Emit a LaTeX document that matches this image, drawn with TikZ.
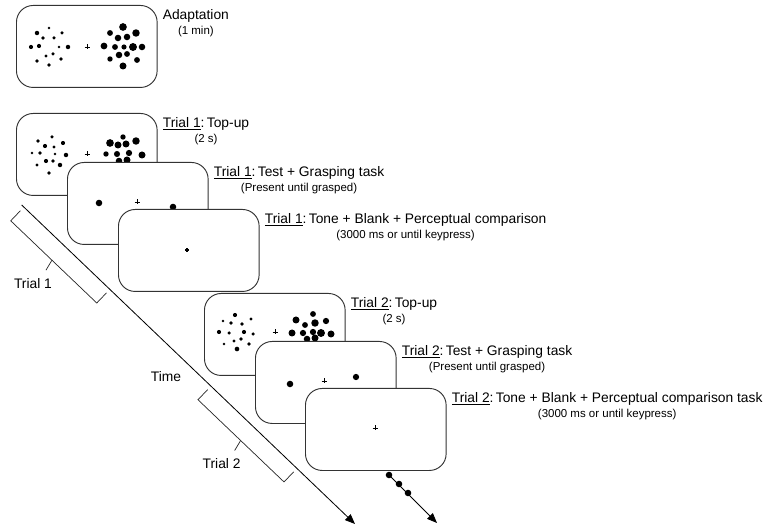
\documentclass[tikz,border=0pt]{standalone}
\usepackage{fontspec}
\setmainfont{Liberation Sans}
\usetikzlibrary{positioning,arrows.meta}
\newcommand{\subline}{\fontsize{9.8}{11.4}\selectfont}

\begin{document}
\begin{tikzpicture}[%
	x=0.3mm,
	y=-0.3mm,
	>={Triangle[length=3mm,width=2.4mm]},
	screen/.style={%
		rectangle,
		rounded corners=5mm,
		draw=black!80,
		line width=0.8pt,
		fill=white,
		minimum width=42.2mm,
		minimum height=24.6mm,
		anchor=north west
	},
	lbl/.style={%
		font=\fontsize{11.8}{11.4}\selectfont,
		align=center,
		inner sep=0pt,
		anchor=north west
	},
	txt/.style={%
		font=\fontsize{11.8}{13}\selectfont,
		inner sep=0pt
	},
	fix/.style={line width=0.5pt},
	brk/.style={line width=0.6pt, black!85}
	]

	\useasboundingbox (0,0) rectangle (770,527);

	% adaptation
	\node[screen] (adapt) at (16,5) {};
	\begin{scope}[shift={(adapt.north west)}]
		\foreach \x/\y/\r in {33/23/1.2, 21/28/1.9, 46/28/1.5, 27/33/1.7, 38/33/1.5, 15/42/1.8, 23/41/1.8, 43/42/1.2, 52/42/1.9, 37/49/1.5, 30/51/1.4, 21/56/1.6, 45/54/1.7, 33/60/1.6,
			107/22/3.3, 94/28/2.5, 120/28/3.2, 102/33/2.8, 111/32/2.8, 88/41/2.9, 99/42/2.5, 108/42/2.2, 117/42/3.4, 126/42/2.8, 103/50/2.8, 111/49/2.5, 94/54/2.3, 121/55/2.5, 107/61/3.0}
			\fill (\x,\y) circle[radius=\r*0.35mm];
		\draw[fix] (68.5,42) -- (73.5,42) (71,39.5) -- (71,44.5);
	\end{scope}
	\node[lbl] (adaptlbl) at ([shift={(5,4)}]adapt.north east) {Adaptation\\[2pt]\subline(1 min)};

	% trial 1
	\node[screen] (topupA) at (16,113) {};
	\begin{scope}[shift={(topupA.north west)}]
		\foreach \x/\y/\r in {36/24/1.5, 22/28/1.7, 47/30/1.8, 29/33/1.8, 38/34/1.3, 16/40/1.2, 24/40/1.7, 39/41/1.2, 50/42/1.9, 30/48/1.8, 37/48/1.7, 21/52/1.3, 44/52/1.9, 33/60/1.6,
			107/24/2.3, 94/30/3.3, 102/32/3.0, 110/31/3.0, 120/28/3.2, 90/41/2.3, 101/41/2.6, 113/40/2.7, 126/42/3.0, 103/48/2.8, 111/47/3.0, 95/54/2.5, 120/53/2.7, 107/60/3.0}
			\fill (\x,\y) circle[radius=\r*0.35mm];
		\draw[fix] (68.5,41) -- (73.5,41) (71,38.5) -- (71,43.5);
	\end{scope}
	\node[lbl] (topupAlbl) at ([shift={(5,4)}]topupA.north east) {\underline{Trial 1}:\,Top-up\\[2pt]\subline(2 s)};

	\node[screen] (testA) at (67,162) {};
	\begin{scope}[shift={(testA.north west)}]
		\fill (32,41) circle[radius=2.8*0.35mm] (106,45) circle[radius=2.8*0.35mm];
		\draw[fix] (67.5,40) -- (72.5,40) (70,37.5) -- (70,42.5);
	\end{scope}
	\node[lbl] (testAlbl) at ([shift={(5,4)}]testA.north east) {\underline{Trial 1}:\,Test + Grasping task\\[2pt]\subline(Present until grasped)};

	\node[screen] (toneA) at (118,209) {};
	\begin{scope}[shift={(toneA.north west)}]
		\draw[line width=1.1pt] (67.2,41) -- (70.8,41) (69,39.2) -- (69,42.8);
	\end{scope}
	\node[lbl] (toneAlbl) at ([shift={(5,4)}]toneA.north east) {\underline{Trial 1}:\,Tone + Blank + Perceptual comparison\\[2pt]\subline(3000 ms or until keypress)};

	% trial 2
	\node[screen] (topupB) at (204,293) {};
	\begin{scope}[shift={(topupB.north west)}]
		\foreach \x/\y/\r in {31/22/1.8, 19/28/1.2, 47/26/1.4, 27/30/1.7, 38/31/1.6, 15/39/1.8, 25/40/1.5, 40/39/1.8, 49/41/1.5, 30/48/1.3, 37/46/1.6, 20/51/1.2, 45/51/1.7, 33/56/2.0,
			109/21/2.5, 92/27/3.0, 101/32/2.5, 111/30/3.2, 122/28/2.7, 88/40/3.0, 99/40/2.7, 109/39/2.7, 117/40/3.4, 127/41/3.0, 103/46/2.8, 111/45/3.0, 95/53/2.5, 120/52/2.7}
			\fill (\x,\y) circle[radius=\r*0.35mm];
		\draw[fix] (68.5,39) -- (73.5,39) (71,36.5) -- (71,41.5);
	\end{scope}
	\node[lbl] (topupBlbl) at ([shift={(5,4)}]topupB.north east) {\underline{Trial 2}:\,Top-up\\[2pt]\subline(2 s)};

	\node[screen] (testB) at (255,341) {};
	\begin{scope}[shift={(testB.north west)}]
		\fill (35,43) circle[radius=2.8*0.35mm] (101,36) circle[radius=2.7*0.35mm];
		\draw[fix] (66.5,40) -- (71.5,40) (69,37.5) -- (69,42.5);
	\end{scope}
	\node[lbl] (testBlbl) at ([shift={(5,4)}]testB.north east) {\underline{Trial 2}:\,Test + Grasping task\\[2pt]\subline(Present until grasped)};

	\node[screen] (toneB) at (305,388) {};
	\begin{scope}[shift={(toneB.north west)}]
		\draw[fix] (67.5,40) -- (72.5,40) (70,37.5) -- (70,42.5);
	\end{scope}
	\node[lbl] (toneBlbl) at ([shift={(5,4)}]toneB.north east) {\underline{Trial 2}:\,Tone + Blank + Perceptual comparison task\\[2pt]\subline(3000 ms or until keypress)};

	% time axis and brackets
	\coordinate (tstart) at (21.7,205);
	\coordinate (tend) at (355,524);
	\draw[->, line width=0.7pt] (tstart) -- (tend);
	\begin{scope}[shift={(tstart)}, rotate=-43.7]
		\draw[brk] (3,5) -- (3,19) -- (122,19) -- (122,5);
		\draw[brk] (60,19) -- (62.6,30.4) coordinate (tipA);
		\draw[brk] (262,5) -- (262,19) -- (381,19) -- (381,5);
		\draw[brk] (321,19) -- (323.6,30.4) coordinate (tipB);
	\end{scope}
	\node[txt] (trialA) at ([shift={(-13,13)}]tipA) {Trial 1};
	\node[txt] (trialB) at ([shift={(-13,13)}]tipB) {Trial 2};
	\node[txt] (time) at (166,377) {Time};

	% more trials
	\coordinate (dstart) at (389,475);
	\coordinate (dend) at (437,523);
	\draw[->, line width=0.7pt] (dstart) -- (dend);
	\foreach \x/\y in {389/475, 399/484, 408/493}
		\fill (\x,\y) circle[radius=2.8*0.35mm];
\end{tikzpicture}
\end{document}
